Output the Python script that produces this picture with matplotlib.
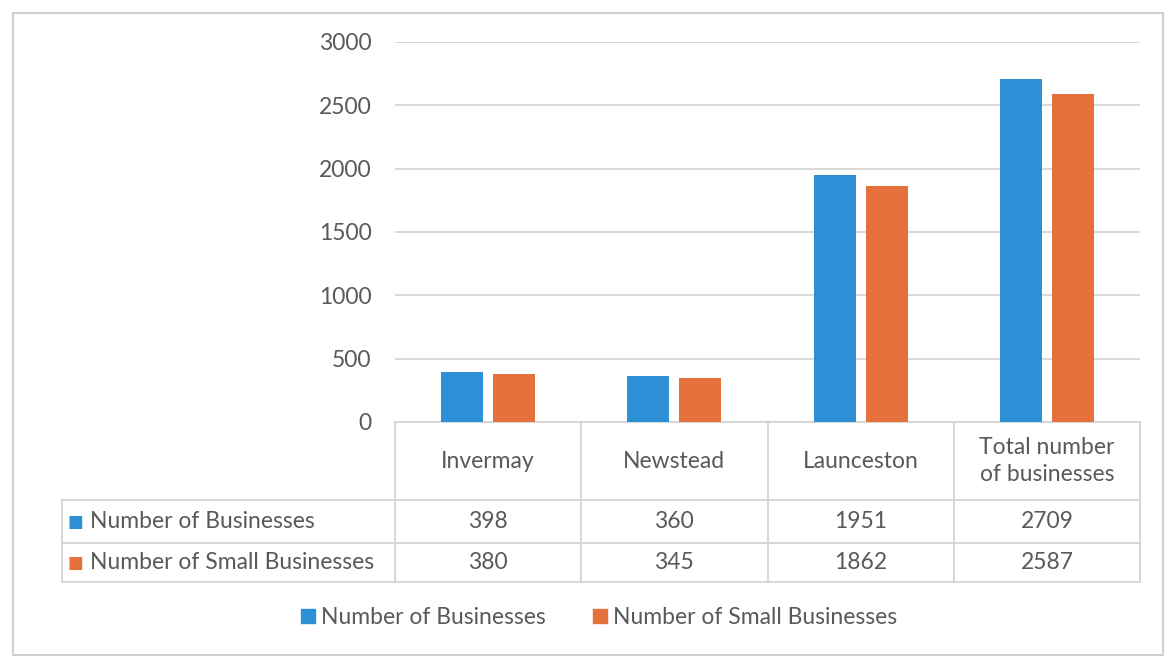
import matplotlib.pyplot as plt
from matplotlib.patches import Rectangle
from matplotlib.lines import Line2D
from matplotlib.transforms import blended_transform_factory
import numpy as np

plt.rcParams['font.family'] = ['Lato', 'DejaVu Sans']

# Data
places = ['Invermay', 'Newstead', 'Launceston', 'Total number\nof businesses']
businesses = [398, 360, 1951, 2709]
small_businesses = [380, 345, 1862, 2587]
series_names = ['Number of Businesses', 'Number of Small Businesses']
yticks = [0, 500, 1000, 1500, 2000, 2500, 3000]

blue = '#2d8fd5'
orange = '#e4703c'
text_col = '#595959'
grid_col = '#d6d6d6'
fs = 16.5

W, H = 1173, 661
fig = plt.figure(figsize=(W / 100, H / 100), dpi=100)

# plot area in pixels: left 395, right 1140, top 42, bottom 422
ax = fig.add_axes([395 / W, (H - 422) / H, (1140 - 395) / W, 380 / H])

x = np.arange(len(places))
bw = 0.225
ax.bar(x - 0.14, businesses, bw, color=blue, zorder=3)
ax.bar(x + 0.14, small_businesses, bw, color=orange, zorder=3)

ax.set_xlim(-0.5, len(places) - 0.5)
ax.set_ylim(0, 3000)
ax.set_yticks(yticks)
ax.set_xticks([])
ax.tick_params(axis='y', length=0, pad=17, labelsize=fs, labelcolor=text_col)
ax.grid(axis='y', color=grid_col, linewidth=1.3, zorder=0)
for s in ax.spines.values():
    s.set_visible(False)

# data table under the plot
tr = blended_transform_factory(ax.transData, ax.transAxes)
px = 1 / 380.0
row_edges = [0, -78 * px, -121 * px, -160 * px]
col_edges = np.arange(len(places) + 1) - 0.5
lab_left = -0.5 - 333 / 186.0
line_kw = dict(color='#d4d4d4', linewidth=1.3, transform=tr, clip_on=False)

for xe in col_edges:
    ax.add_line(Line2D([xe, xe], [row_edges[0], row_edges[-1]], **line_kw))
ax.add_line(Line2D([lab_left, lab_left], [row_edges[1], row_edges[-1]], **line_kw))
ax.add_line(Line2D([col_edges[0], col_edges[-1]], [0, 0], **line_kw))
for ye in row_edges[1:]:
    ax.add_line(Line2D([lab_left, col_edges[-1]], [ye, ye], **line_kw))

for i, name in enumerate(places):
    ax.text(i, row_edges[0] + (row_edges[1] - row_edges[0]) / 2, name,
            transform=tr, ha='center', va='center', fontsize=fs,
            color=text_col, linespacing=1.4)

rows = [businesses, small_businesses]
colors = [blue, orange]
for r, (vals, name, c) in enumerate(zip(rows, series_names, colors)):
    yc = (row_edges[r + 1] + row_edges[r + 2]) / 2
    for i, v in enumerate(vals):
        ax.text(i, yc, str(v), transform=tr, ha='center', va='center',
                fontsize=fs, color=text_col)
    ax.text(lab_left + 0.075, yc, '\u25A0', transform=tr, ha='center',
            va='center', fontsize=12, color=c)
    ax.text(lab_left + 0.155, yc, name, transform=tr, ha='left',
            va='center', fontsize=fs, color=text_col)

# legend
handles = [Line2D([], [], marker='s', linestyle='none', markersize=10,
                  color=c) for c in colors]
fig.legend(handles, series_names, loc='center', ncol=2,
           bbox_to_anchor=(598 / W, (H - 618) / H), frameon=False,
           fontsize=fs, labelcolor=text_col, handletextpad=0.15,
           columnspacing=2.0, handlelength=0.8)

# outer chart border
fig.patches.append(Rectangle((13 / W, (H - 655) / H), 1150 / W, 642 / H,
                             transform=fig.transFigure, fill=False,
                             edgecolor='#d0d0d0', linewidth=1.5))

fig.savefig('out.png', dpi=100)
